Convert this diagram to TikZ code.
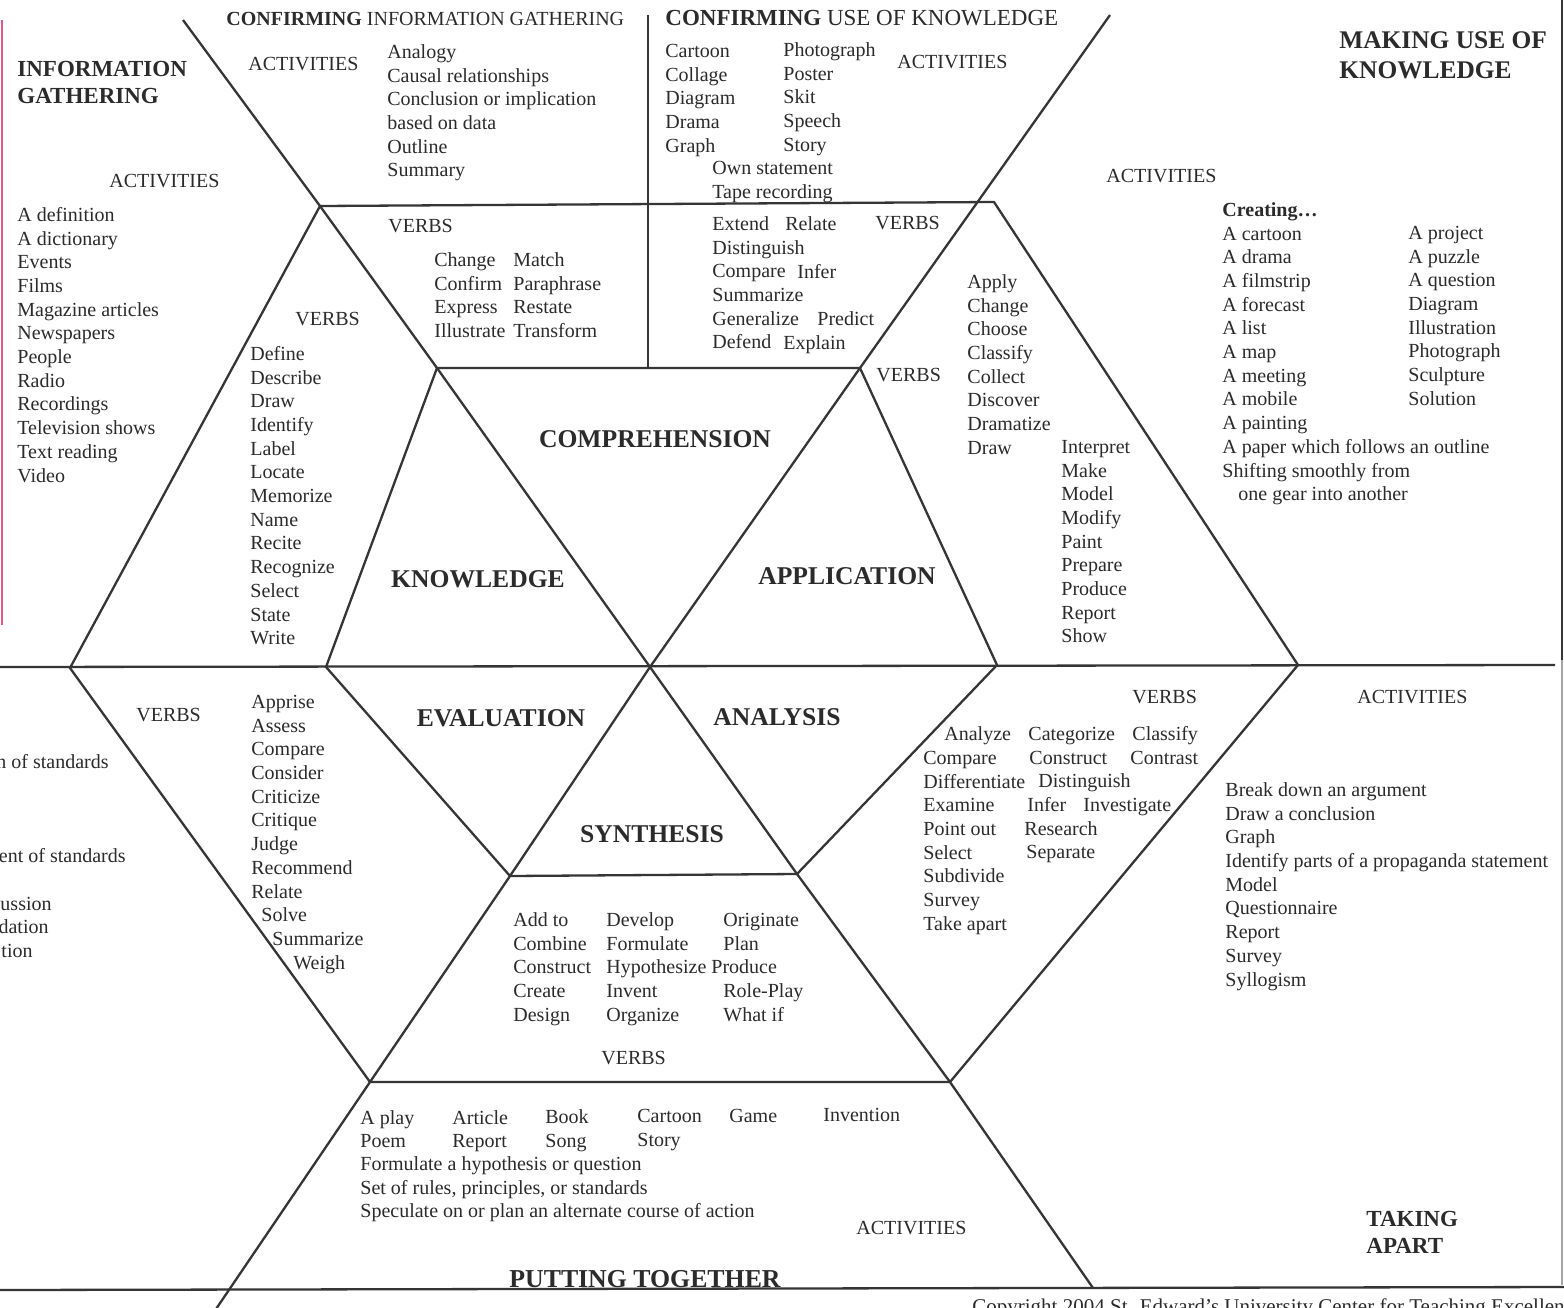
\documentclass[tikz,border=0pt]{standalone}
\usepackage{fontspec}
\setmainfont{Liberation Serif}
\newcommand\fsz{\fontsize{10}{11.85}\selectfont}
\definecolor{ink}{HTML}{2B2B2B}
\definecolor{rule}{HTML}{353535}
\definecolor{pinkedge}{HTML}{E4577F}
\begin{document}
\begin{tikzpicture}[x=0.5pt,y=-0.5pt,
  ln/.style={line width=1.15pt, draw=rule, line join=miter},
  lst/.style={align=left, anchor=north west, inner sep=0pt, font=\fsz, text=ink, yshift=5.3pt},
  wd/.style={anchor=base west, inner sep=0pt, font=\fsz, text=ink, yshift=-3pt},
  hd/.style={anchor=base west, inner sep=0pt, font=\bfseries\fontsize{11.5}{13.5}\selectfont, text=ink},
  hdb/.style={anchor=base west, inner sep=0pt, font=\bfseries\fontsize{12.7}{15}\selectfont, text=ink},
  big/.style={anchor=base, inner sep=0pt, font=\bfseries\fontsize{12.8}{15}\selectfont, text=ink}]
\useasboundingbox (0,0) rectangle (1564,1307);
\clip (0,0) rectangle (1564,1307);
\fill[white] (0,0) rectangle (1564,1307);

% ---------- frame geometry ----------
\coordinate (C) at (650,667);
\coordinate (ITL) at (437,368); \coordinate (ITR) at (860,368);
\coordinate (IR) at (997,665);  \coordinate (IBR) at (797,874);
\coordinate (IBL) at (510,876); \coordinate (IL) at (326,667);
\coordinate (OTL) at (320,206); \coordinate (OTR) at (994,202);
\coordinate (OR) at (1298,665); \coordinate (OBR) at (950,1082);
\coordinate (OBL) at (370,1082); \coordinate (OL) at (70,668);
\coordinate (D1a) at (183,20);  \coordinate (D1b) at (1093,1288);
\coordinate (D2a) at (1110,15); \coordinate (D2b) at (214,1312);
\coordinate (VT) at (648,15);   \coordinate (VB) at (648,368);
\coordinate (ML) at (0,667);    \coordinate (MR) at (1555,665);
\coordinate (BL) at (0,1290);   \coordinate (BR) at (1564,1287);
\coordinate (PKa) at (1.5,20);  \coordinate (PKb) at (1.5,625);
\coordinate (RGa) at (1562,0);  \coordinate (RGb) at (1562,660);
\coordinate (RGc) at (1562,1285);

\draw[line width=1pt, pinkedge] (PKa) -- (PKb);
\draw[line width=0.9pt, rule] (RGa) -- (RGb);
\draw[line width=0.6pt, rule!45] (RGb) -- (RGc);

\draw[ln] (ML) -- (MR);
\draw[ln] (BL) -- (BR);
\draw[ln] (VT) -- (VB);
\draw[ln] (D1a) -- (OTL) -- (ITL) -- (C) -- (IBR) -- (OBR) -- (D1b);
\draw[ln] (D2a) -- (ITR) -- (C) -- (IBL) -- (OBL) -- (D2b);
\draw[ln] (OL) -- (OTL) -- (OTR) -- (OR) -- (OBR) -- (OBL) -- cycle;
\draw[ln] (IL) -- (ITL) -- (ITR) -- (IR) -- (IBR) -- (IBL) -- cycle;

% ---------- headings ----------
\node[hd] (h1a) at (17,76) {INFORMATION};
\node[hd] (h1b) at (17,103) {GATHERING};
\node[hdb] (h2a) at (1339,48) {MAKING USE OF};
\node[hdb] (h2b) at (1339,78) {KNOWLEDGE};
\node[hd] (h3a) at (1366,1226) {TAKING};
\node[hd] (h3b) at (1366,1253) {APART};
\node[anchor=base, inner sep=0pt, font=\bfseries\fontsize{12.9}{15}\selectfont, text=ink] (h4) at (645,1287) {PUTTING TOGETHER};
\node[anchor=base west, inner sep=0pt, font=\fsz, text=ink] (h5) at (226,25) {\textbf{CONFIRMING} INFORMATION GATHERING};
\node[anchor=base west, inner sep=0pt, font=\fontsize{11.5}{13.5}\selectfont, text=ink] (h6) at (665,25) {\textbf{CONFIRMING} USE OF KNOWLEDGE};

% ---------- centre labels ----------
\node[big] (comp) at (655,447) {COMPREHENSION};
\node[big] (know) at (478,587) {KNOWLEDGE};
\node[big] (appl) at (847,584) {APPLICATION};
\node[big] (eval) at (501,726) {EVALUATION};
\node[big] (anal) at (777,725) {ANALYSIS};
\node[big] (synt) at (652,842) {SYNTHESIS};

% ---------- information gathering ----------
\node[wd] (a1) at (109,181) {ACTIVITIES};
\node[lst] (l1) at (17,215) {\strut A definition\\A dictionary\\Events\\Films\\Magazine articles\\Newspapers\\People\\Radio\\Recordings\\Television shows\\Text reading\\Video};
\node[wd] (v1) at (295,319) {VERBS};
\node[lst] (l2) at (250,354) {\strut Define\\Describe\\Draw\\Identify\\Label\\Locate\\Memorize\\Name\\Recite\\Recognize\\Select\\State\\Write};

% ---------- confirming information gathering ----------
\node[wd] (a2) at (248,64) {ACTIVITIES};
\node[lst] (l3) at (387,52) {\strut Analogy\\Causal relationships\\Conclusion or implication\\based on data\\Outline\\Summary};
\node[wd] (v2) at (388,226) {VERBS};
\node[lst] (l4) at (434,260) {\strut Change\\Confirm\\Express\\Illustrate};
\node[lst] (l5) at (513,260) {\strut Match\\Paraphrase\\Restate\\Transform};

% ---------- confirming use of knowledge ----------
\node[lst] (l6) at (665,51) {\strut Cartoon\\Collage\\Diagram\\Drama\\Graph};
\node[lst] (l7) at (783,50) {\strut Photograph\\Poster\\Skit\\Speech\\Story};
\node[lst] (l8) at (712,168) {\strut Own statement\\Tape recording};
\node[wd] (a3) at (897,62) {ACTIVITIES};
\node[lst] (l9) at (712,224) {\strut Extend\\Distinguish\\Compare\\Summarize\\Generalize\\Defend};
\node[wd] (w1) at (785,224) {Relate};
\node[wd] (w2) at (797,272) {Infer};
\node[wd] (w3) at (817,319) {Predict};
\node[wd] (w4) at (783,343) {Explain};
\node[wd] (v3) at (875,223) {VERBS};

% ---------- making use of knowledge ----------
\node[wd] (v4) at (876,375) {VERBS};
\node[lst] (l10) at (967,282) {\strut Apply\\Change\\Choose\\Classify\\Collect\\Discover\\Dramatize\\Draw};
\node[lst] (l11) at (1061,447) {\strut Interpret\\Make\\Model\\Modify\\Paint\\Prepare\\Produce\\Report\\Show};
\node[wd] (a4) at (1106,176) {ACTIVITIES};
\node[lst] (l12) at (1222,210) {\strut\textbf{Creating\ldots}\\A cartoon\\A drama\\A filmstrip\\A forecast\\A list\\A map\\A meeting\\A mobile\\A painting\\A paper which follows an outline\\Shifting smoothly from\\\hspace*{8pt}one gear into another};
\node[lst] (l13) at (1408,233) {\strut A project\\A puzzle\\A question\\Diagram\\Illustration\\Photograph\\Sculpture\\Solution};

% ---------- evaluation ----------
\node[wd] (v5) at (136,715) {VERBS};
\node[lst] (l14) at (251,702) {\strut Apprise\\Assess\\Compare\\Consider\\Criticize\\Critique\\Judge\\Recommend\\Relate\\\hspace*{5pt}Solve\\\hspace*{10.5pt}Summarize\\\hspace*{21pt}Weigh};
\node[wd, anchor=base east] (f1) at (109,762) {n of standards};
\node[wd, anchor=base east] (f2) at (126,856) {ent of standards};
\node[wd, anchor=base east] (f3) at (52,904) {ussion};
\node[wd, anchor=base east] (f4) at (49,927) {dation};
\node[wd, anchor=base east] (f5) at (33,951) {tion};

% ---------- analysis ----------
\node[wd] (v6) at (1132,697) {VERBS};
\node[wd] (w5) at (944,734) {Analyze};
\node[lst] (l15) at (923,758) {\strut Compare\\Differentiate\\Examine\\Point out\\Select\\Subdivide\\Survey\\Take apart};
\node[wd] (w6) at (1028,734) {Categorize};
\node[wd] (w7) at (1132,734) {Classify};
\node[wd] (w8) at (1029,758) {Construct};
\node[wd] (w9) at (1130,758) {Contrast};
\node[wd] (w10) at (1038,781) {Distinguish};
\node[wd] (w11) at (1027,805) {Infer};
\node[wd] (w12) at (1083,805) {Investigate};
\node[wd] (w13) at (1024,829) {Research};
\node[wd] (w14) at (1026,852) {Separate};
\node[wd] (a5) at (1357,697) {ACTIVITIES};
\node[lst] (l16) at (1225,790) {\strut Break down an argument\\Draw a conclusion\\Graph\\Identify parts of a propaganda statement\\Model\\Questionnaire\\Report\\Survey\\Syllogism};

% ---------- synthesis ----------
\node[lst] (l17) at (513,920) {\strut Add to\\Combine\\Construct\\Create\\Design};
\node[lst] (l18) at (606,920) {\strut Develop\\Formulate\\Hypothesize\\Invent\\Organize};
\node[lst] (l19) at (723,920) {\strut Originate\\Plan\\\hspace*{-6pt}Produce\\Role-Play\\What if};
\node[wd] (v7) at (601,1058) {VERBS};

% ---------- putting together ----------
\node[wd] (b1) at (360,1118) {A play};
\node[wd] (b2) at (452,1118) {Article};
\node[wd] (b3) at (545,1117) {Book};
\node[wd] (b4) at (637,1116) {Cartoon};
\node[wd] (b5) at (729,1116) {Game};
\node[wd] (b6) at (823,1115) {Invention};
\node[wd] (b7) at (360,1141) {Poem};
\node[wd] (b8) at (452,1141) {Report};
\node[wd] (b9) at (545,1141) {Song};
\node[wd] (b10) at (637,1140) {Story};
\node[lst] (l20) at (360,1164) {\strut Formulate a hypothesis or question\\Set of rules, principles, or standards\\Speculate on or plan an alternate course of action};
\node[wd] (a6) at (856,1228) {ACTIVITIES};

% ---------- copyright ----------
\node[anchor=base west, inner sep=0pt, font=\fontsize{10.5}{12}\selectfont, text=ink] (copy) at (972,1313) {Copyright 2004 St. Edward's University Center for Teaching Excellence};
\end{tikzpicture}
\end{document}
